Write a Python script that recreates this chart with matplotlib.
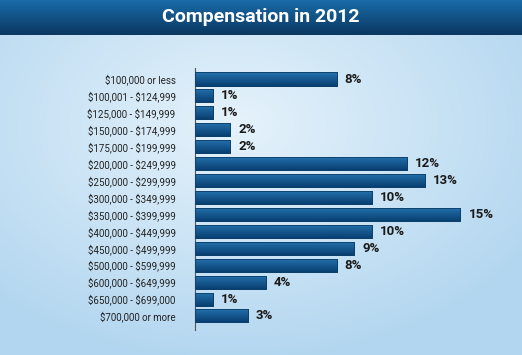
import numpy as np
import matplotlib
matplotlib.use("Agg")
import matplotlib.pyplot as plt

categories = ["$100,000 or less", "$100,001 - $124,999", "$125,000 - $149,999",
              "$150,000 - $174,999", "$175,000 - $199,999", "$200,000 - $249,999",
              "$250,000 - $299,999", "$300,000 - $349,999", "$350,000 - $399,999",
              "$400,000 - $449,999", "$450,000 - $499,999", "$500,000 - $599,999",
              "$600,000 - $649,999", "$650,000 - $699,000", "$700,000 or more"]
values = [8, 1, 1, 2, 2, 12, 13, 10, 15, 10, 9, 8, 4, 1, 3]
title = "Compensation in 2012"

W, H = 522, 355
fig = plt.figure(figsize=(W / 100, H / 100), dpi=100)

# background gradient
bg = fig.add_axes([0, 0, 1, 1])
yy, xx = np.mgrid[0:1:200j, 0:1:300j]
r = np.sqrt(((xx - 0.45) / 0.9) ** 2 + ((yy - 0.35) / 0.9) ** 2)
c0 = np.array([0.90, 0.95, 0.985])
c1 = np.array([0.70, 0.84, 0.94])
t = np.clip(r / 0.75, 0, 1)[..., None]
img = c0 * (1 - t) + c1 * t
bg.imshow(img, extent=[0, 1, 0, 1], aspect="auto", origin="upper")
bg.set_xlim(0, 1); bg.set_ylim(0, 1)
bg.axis("off")

# title bar
tb_h = 35 / H
tb = fig.add_axes([0, 1 - tb_h, 1, tb_h])
g = np.linspace(0, 1, 50)[:, None]
top = np.array([0.10, 0.42, 0.66]); bot = np.array([0.04, 0.22, 0.38])
timg = (top * (1 - g[..., None]) + bot * g[..., None]) * np.ones((1, 10, 1))
tb.imshow(timg, extent=[0, 1, 0, 1], aspect="auto", origin="upper")
tb.set_xlim(0, 1); tb.set_ylim(0, 1)
tb.axis("off")
tb.text(0.5, 0.5, title, color="white", fontsize=14, fontweight="bold",
        ha="center", va="center", family="Roboto")

# main axes
left = 195 / W
ax_w = (17.7 * 16) / W
bottom = (H - 330) / H
ax_h = (330 - 68) / H
ax = fig.add_axes([left, bottom, ax_w, ax_h])
ax.patch.set_alpha(0)
y = np.arange(len(categories))
bars = ax.barh(y, values, height=0.77, color="#0f5a90", edgecolor="#0a3e68", linewidth=0.6)
bgrad = np.linspace(0, 1, 30)[:, None, None]
btop = np.array([0.15, 0.45, 0.68]); bbot = np.array([0.03, 0.25, 0.45])
bimg = (btop * (1 - bgrad) + bbot * bgrad) * np.ones((1, 4, 1))
for b in bars:
    x0, y0 = b.get_x(), b.get_y()
    w, h = b.get_width(), b.get_height()
    im = ax.imshow(bimg, extent=[x0, x0 + w, y0 + h, y0], aspect="auto",
                   origin="upper", zorder=b.get_zorder() + 0.1)
    im.set_clip_path(b)
for b in bars:
    ax.add_patch(plt.Rectangle((b.get_x(), b.get_y()), b.get_width(), b.get_height(),
                               fill=False, edgecolor="#0a3e68", linewidth=0.6, zorder=3))
for yi, v in zip(y, values):
    ax.text(v + 0.45, yi, f"{v}%", va="center", ha="left", fontsize=9.5,
            fontweight="bold", color="#1a1a1a", family="Roboto")
ax.set_xlim(0, 16)
ax.set_ylim(14.83, -0.65)
ax.set_aspect("auto")
ax.set_yticks(y)
ax.set_yticklabels(categories, fontsize=7, color="#222222", family="Roboto",
                   parse_math=False)
ax.tick_params(axis="y", length=0, pad=14)
ax.set_xticks([])
for s in ["top", "right", "bottom"]:
    ax.spines[s].set_visible(False)
ax.spines["left"].set_color("#555555")
ax.spines["left"].set_linewidth(0.8)

fig.savefig("out.png", dpi=100)
